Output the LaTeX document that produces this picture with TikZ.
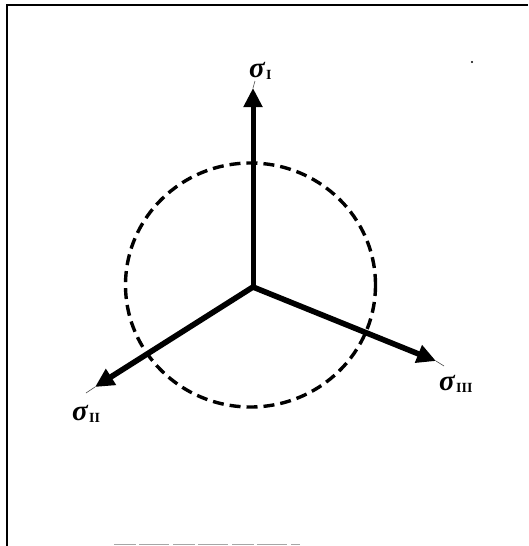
\documentclass[tikz,border=0pt]{standalone}
\usepackage{fontspec}
\setmainfont{Liberation Serif}
\usetikzlibrary{arrows.meta}
\tikzset{
  axis/.style={line width=5.6pt, -{Triangle[length=19pt,width=18pt]}},
  dashcircle/.style={line width=3.4pt, dash pattern=on 11pt off 6pt},
  leader/.style={line width=0.6pt, black!70},
  lab/.style={inner sep=0pt, font=\fontsize{29}{32}\selectfont\bfseries\itshape},
  sub/.style={font=\fontsize{14}{16}\selectfont\bfseries}
}
\begin{document}
\begin{tikzpicture}[x=1pt,y=-1pt]
\useasboundingbox (0,0) rectangle (528,546);
% frame
\draw[line width=2.8pt] (7,546) -- (7,5) -- (528,5);
\draw[black!35, line width=1.5pt, dash pattern=on 22pt off 3pt on 30pt off 4pt] (114,544.5) -- (300,544.5);
\fill (472,62) circle (1.2pt);
% geometry
\coordinate (O) at (253,287);
\coordinate (C) at (250.5,285);
\coordinate (t1) at (253,88);
\coordinate (t2) at (95,387);
\coordinate (t3) at (436,361);
\draw[dashcircle] (C) ellipse [x radius=125, y radius=122];
\draw[axis, line width=5pt] (O) -- (t1);
\draw[axis] (O) -- (t2);
\draw[axis] (O) -- (t3);
% leaders
\coordinate (e1) at (255,81);
\coordinate (e2) at (86,393);
\coordinate (e3) at (444,366);
\draw[leader] (t1) -- (e1);
\draw[leader] (t2) -- (e2);
\draw[leader] (t3) -- (e3);
% labels
\node[lab] (l1) at (257,70) {σ};
\node[sub, anchor=west, inner sep=0pt] (s1) at ([xshift=1pt,yshift=-5pt]l1.east) {I};
\node[lab] (l2) at (80,413) {σ};
\node[sub, anchor=west, inner sep=0pt] (s2) at ([xshift=1pt,yshift=-5pt]l2.east) {II};
\node[lab] (l3) at (447,383) {σ};
\node[sub, anchor=west, inner sep=0pt] (s3) at ([xshift=1pt,yshift=-5pt]l3.east) {III};
\end{tikzpicture}
\end{document}
